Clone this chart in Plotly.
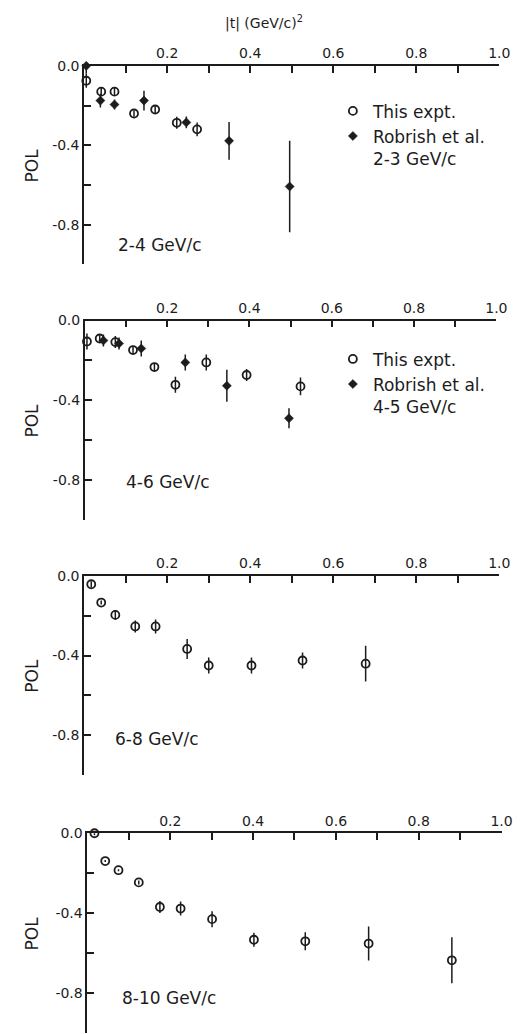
import plotly.graph_objects as go

# Polarization vs |t| for four beam-momentum bins.
# Open circles: this experiment; filled diamonds: Robrish et al.

# ---- 2-4 GeV/c ----
p1_this_t = [0.005, 0.041, 0.073, 0.120, 0.171, 0.223, 0.272]
p1_this_pol = [-0.075, -0.130, -0.130, -0.240, -0.220, -0.287, -0.320]
p1_this_err = [0.035, 0.020, 0.020, 0.015, 0.020, 0.030, 0.035]

p1_rob_t = [0.005, 0.039, 0.073, 0.144, 0.246, 0.349, 0.495]
p1_rob_pol = [0.000, -0.175, -0.195, -0.175, -0.285, -0.378, -0.608]
p1_rob_err = [0.040, 0.035, 0.025, 0.050, 0.030, 0.095, 0.230]

# ---- 4-6 GeV/c ----
p2_this_t = [0.005, 0.036, 0.074, 0.117, 0.169, 0.220, 0.295, 0.393, 0.524]
p2_this_pol = [-0.105, -0.090, -0.108, -0.148, -0.233, -0.322, -0.210, -0.273, -0.330]
p2_this_err = [0.040, 0.020, 0.030, 0.020, 0.020, 0.040, 0.040, 0.030, 0.045]

p2_rob_t = [0.005, 0.045, 0.083, 0.137, 0.244, 0.345, 0.496]
p2_rob_pol = [0.035, -0.100, -0.115, -0.140, -0.210, -0.327, -0.490]
p2_rob_err = [0.030, 0.030, 0.030, 0.040, 0.040, 0.080, 0.050]

# ---- 6-8 GeV/c ----
p3_this_t = [0.017, 0.041, 0.075, 0.123, 0.172, 0.248, 0.300, 0.403, 0.526, 0.678]
p3_this_pol = [-0.042, -0.134, -0.196, -0.254, -0.254, -0.367, -0.450, -0.450, -0.425, -0.441]
p3_this_err = [0.015, 0.010, 0.025, 0.030, 0.035, 0.050, 0.040, 0.040, 0.040, 0.090]

# ---- 8-10 GeV/c ----
p4_this_t = [0.017, 0.043, 0.075, 0.124, 0.175, 0.225, 0.301, 0.402, 0.526, 0.679, 0.880]
p4_this_pol = [0.000, -0.139, -0.185, -0.246, -0.369, -0.377, -0.430, -0.533, -0.541, -0.552, -0.636]
p4_this_err = [0.010, 0.005, 0.005, 0.010, 0.030, 0.035, 0.040, 0.035, 0.045, 0.085, 0.115]

panel_labels = ["2-4 GeV/c", "4-6 GeV/c", "6-8 GeV/c", "8-10 GeV/c"]
rob_labels = ["Robrish et al.<br>2-3 GeV/c", "Robrish et al.<br>4-5 GeV/c"]
x_tick_vals = [0.2, 0.4, 0.6, 0.8, 1.0]
x_tick_text = ["0.2", "0.4", "0.6", "0.8", "1.0"]
y_tick_vals = [0.0, -0.4, -0.8]
y_tick_text = ["0.0", "-0.4", "-0.8"]

INK = "#1c1c1c"
FONT = "DejaVu Sans"
W, H = 525, 1034

# panel geometry in pixels: (left, right, top, bottom)
panels_px = [
    (86, 510, 58.3, 258.3),
    (86.7, 507, 315, 516),
    (86, 510, 572.3, 773),
    (89.3, 512.3, 831.7, 1033),
]
label_px = [(118, 239), (127, 478), (115, 737), (123, 998)]

fig = go.Figure()

open_marker = dict(symbol="circle-open", size=8, color=INK, line=dict(width=1.8, color=INK))
fill_marker = dict(symbol="diamond", size=7, color=INK, line=dict(width=0.5, color=INK))


def err(vals):
    return dict(type="data", array=vals, visible=True, width=0, thickness=1.5, color=INK)


datasets = [
    (p1_this_t, p1_this_pol, p1_this_err, p1_rob_t, p1_rob_pol, p1_rob_err),
    (p2_this_t, p2_this_pol, p2_this_err, p2_rob_t, p2_rob_pol, p2_rob_err),
    (p3_this_t, p3_this_pol, p3_this_err, None, None, None),
    (p4_this_t, p4_this_pol, p4_this_err, None, None, None),
]

for i, (tt, pp, ee, rt, rp, re) in enumerate(datasets):
    ax = "" if i == 0 else str(i + 1)
    leg = "legend" if i == 0 else f"legend{i + 1}"
    fig.add_trace(go.Scatter(
        x=tt, y=pp, error_y=err(ee), mode="markers", marker=open_marker,
        xaxis="x" + ax, yaxis="y" + ax, cliponaxis=False,
        name="This expt.", legend=leg, showlegend=rt is not None,
    ))
    if rt is not None:
        fig.add_trace(go.Scatter(
            x=rt, y=rp, error_y=err(re), mode="markers", marker=fill_marker,
            xaxis="x" + ax, yaxis="y" + ax, cliponaxis=False,
            name=rob_labels[i], legend=leg, showlegend=True,
        ))

layout = dict(
    width=W, height=H,
    margin=dict(l=0, r=0, t=0, b=0),
    paper_bgcolor="white", plot_bgcolor="white",
    font=dict(family=FONT, color=INK, size=14),
    showlegend=True,
    annotations=[],
)

for i, (l, r, t, b) in enumerate(panels_px):
    ax = "" if i == 0 else str(i + 1)
    layout["xaxis" + ax] = dict(
        domain=[l / W, r / W], range=[0, 1], side="top", anchor="y" + ax,
        showline=True, linecolor=INK, linewidth=1.8, showgrid=False, zeroline=False,
        tickmode="array", tickvals=x_tick_vals, ticktext=x_tick_text,
        ticks="inside", ticklen=7, tickwidth=1.6, tickcolor=INK,
        tickfont=dict(family=FONT, size=14, color=INK),
        minor=dict(ticks="inside", tickmode="linear", tick0=0, dtick=0.1,
                   ticklen=7, tickwidth=1.6, tickcolor=INK, showgrid=False),
        fixedrange=True,
    )
    layout["yaxis" + ax] = dict(
        domain=[1 - b / H, 1 - t / H], range=[-1.0, 0.0], anchor="x" + ax,
        showline=True, linecolor=INK, linewidth=1.8, showgrid=False, zeroline=False,
        tickmode="array", tickvals=y_tick_vals, ticktext=y_tick_text,
        ticks="inside", ticklen=7, tickwidth=1.6, tickcolor=INK,
        tickfont=dict(family=FONT, size=14, color=INK),
        minor=dict(ticks="inside", tickmode="linear", tick0=0, dtick=0.2,
                   ticklen=7, tickwidth=1.6, tickcolor=INK, showgrid=False),
        fixedrange=True,
    )
    # "POL" axis title
    layout["annotations"].append(dict(
        text="POL", textangle=-90, x=33 / W, xref="paper", y=0.5, yref=f"y{ax} domain",
        showarrow=False, font=dict(family=FONT, size=17, color=INK),
        xanchor="center", yanchor="middle",
    ))
    # momentum bin label
    lx, ly = label_px[i]
    layout["annotations"].append(dict(
        text=panel_labels[i], x=lx / W, y=1 - ly / H, xref="paper", yref="paper",
        xanchor="left", yanchor="middle", showarrow=False,
        font=dict(family=FONT, size=17, color=INK),
    ))

# |t| axis label above the top panel
layout["annotations"].append(dict(
    text="|t| (GeV/c)<sup>2</sup>", x=270 / W, y=1 - 15 / H, xref="paper", yref="paper",
    xanchor="center", yanchor="middle", showarrow=False,
    font=dict(family=FONT, size=14, color=INK),
))

legend_common = dict(
    xanchor="left", yanchor="top", bgcolor="white", borderwidth=0,
    font=dict(family=FONT, size=17, color=INK), valign="top",
    itemwidth=30, tracegroupgap=0, orientation="v", visible=True,
)
layout["legend"] = dict(x=340 / W, y=1 - 86 / H, **legend_common)
layout["legend2"] = dict(x=340 / W, y=1 - 336 / H, **legend_common)

fig.update_layout(**layout)
fig.write_html("out.html")
